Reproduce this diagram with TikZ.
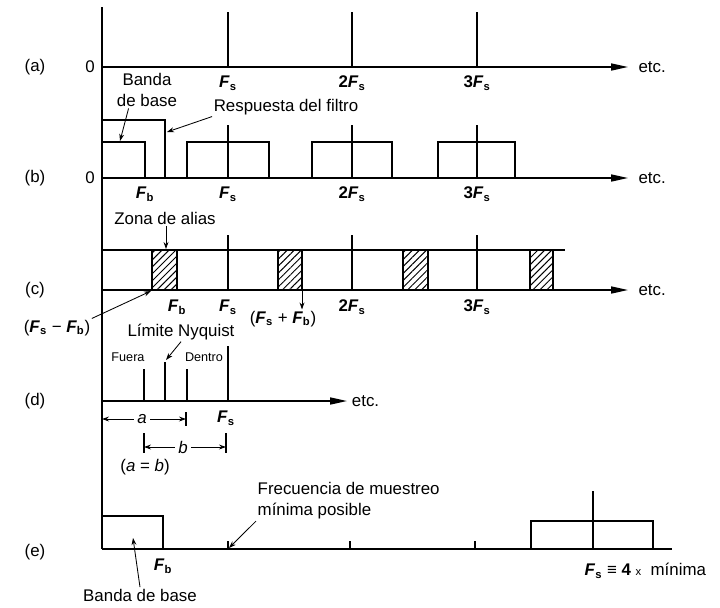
\documentclass[tikz,border=0pt]{standalone}
\usepackage{fontspec}
\setmainfont{Liberation Sans}
\usetikzlibrary{arrows.meta,patterns.meta}
\newcommand{\Fq}[1]{\textbf{\textit{F}}\textsubscript{\textbf{#1}}}
\tikzset{
  axisline/.style={line width=1pt},
  axisarrow/.style={line width=1pt, -{Stealth[length=12pt,width=5pt,inset=0pt]}},
  spec/.style={line width=1.8pt},
  aliasbox/.style={line width=1.3pt,
              pattern={Lines[angle=45,distance=3.5pt,line width=0.7pt]}},
  pointer/.style={line width=0.6pt, -{Stealth[length=5pt,width=3.5pt]}},
  dimline/.style={line width=0.6pt, {Stealth[length=5pt,width=3.5pt]}-{Stealth[length=5pt,width=3.5pt]}},
  lbl/.style={font=\fontsize{12}{15}\selectfont, inner sep=1pt},
  smalllbl/.style={font=\fontsize{9}{11}\selectfont, inner sep=1pt},
  freq/.style={font=\fontsize{12}{15}\selectfont, inner sep=1pt},
}
\begin{document}
\begin{tikzpicture}[x=0.025cm,y=-0.025cm]
\useasboundingbox (0,0) rectangle (720,607);
% common amplitude axis
\draw[axisline] (102,7) -- (102,549);

% (a) sampling pulses
\node[lbl] (pa) at (35,67) {(a)};
\node[lbl] (za) at (90,67) {0};
\foreach \x in {228,352,477} \draw[spec] (\x,12) -- (\x,67);
\draw[axisarrow] (102,67) -- (628,67) node[lbl,right=6pt] (etca) {etc.};
\node[freq] (fsa) at (228,83) {\Fq{s}};
\node[freq] (fsa2) at (352,83) {\textbf{2}\Fq{s}};
\node[freq] (fsa3) at (477,83) {\textbf{3}\Fq{s}};

% (b) baseband, filter and images
\node[lbl] (pb) at (35,178) {(b)};
\node[lbl] (zb) at (90,178) {0};
\draw[spec] (102,120) -| (165,178);
\draw[spec] (102,142) -| (145,178);
\foreach \l/\r/\x in {187/269/228, 312/392/352, 438/515/477} {
  \draw[spec] (\l,178) |- (\r,142) -- (\r,178);
  \draw[spec] (\x,125) -- (\x,178);
}
\draw[axisarrow] (102,178) -- (628,178) node[lbl,right=6pt] (etcb) {etc.};
\node[freq] (fbb) at (145,194) {\Fq{b}};
\node[freq] (fsb) at (228,194) {\Fq{s}};
\node[freq] (fsb2) at (352,194) {\textbf{2}\Fq{s}};
\node[freq] (fsb3) at (477,194) {\textbf{3}\Fq{s}};
\node[lbl, align=center] (banda) at (147,90) {Banda\\de base};
\coordinate (bandatip) at (120,141);
\draw[pointer] (banda.225) -- (bandatip);
\node[lbl] (resp) at (286,107) {Respuesta del filtro};
\coordinate (resptip) at (167,132);
\draw[pointer] (resp.south west) -- (resptip);

% (c) alias zones
\node[lbl] (pc) at (35,290) {(c)};
\draw[axisline] (102,250) -- (565,250);
\foreach \l/\r in {152/177, 278/302, 403/428, 530/553}
  \draw[aliasbox] (\l,250) rectangle (\r,290);
\foreach \x in {228,352,477} \draw[spec] (\x,235) -- (\x,290);
\draw[axisarrow] (102,290) -- (628,290) node[lbl,right=6pt] (etcc) {etc.};
\node[freq] (fbc) at (177,307) {\Fq{b}};
\node[freq] (fsc) at (228,307) {\Fq{s}};
\node[freq] (fsc2) at (352,307) {\textbf{2}\Fq{s}};
\node[freq] (fsc3) at (477,307) {\textbf{3}\Fq{s}};
\node[lbl] (zona) at (165,218) {Zona de alias};
\coordinate (zonatip) at (166,249);
\draw[pointer] (zona.south -| zonatip) -- (zonatip);
\node[freq] (diff) at (57,328) {(\Fq{s} − \Fq{b})};
\coordinate (difftip) at (151,291);
\draw[pointer] (diff.north east) -- (difftip);
\node[freq] (sum) at (283,319) {(\Fq{s} + \Fq{b})};
\coordinate (sumfoot) at (302,291);
\draw[pointer] (sumfoot) -- (sum.north -| sumfoot);

% (d) Nyquist limit
\node[lbl] (pd) at (35,401) {(d)};
\foreach \x/\t in {144/369, 165/362, 187/369, 228/346} \draw[spec] (\x,\t) -- (\x,401);
\draw[axisarrow] (102,401) -- (347,401) node[lbl,right=2pt] (etcd) {etc.};
\node[freq] (fsd) at (226,418) {\Fq{s}};
\node[smalllbl] (fuera) at (128,357) {Fuera};
\node[smalllbl] (dentro) at (204,357) {Dentro};
\node[lbl] (nyq) at (181,332) {Límite Nyquist};
\coordinate (nyqtip) at (166,360);
\draw[pointer] (nyq.south) -- (nyqtip);
\draw[dimline] (102,419) -- (186,419);
\draw[axisline] (186,412) -- (186,426);
\node[lbl, fill=white, inner sep=2pt] (da) at (142,419) {\textit{a}};
\draw[dimline] (144,447) -- (226,447);
\draw[axisline] (144,433) -- (144,453) (226,433) -- (226,453);
\node[lbl, fill=white, inner sep=2pt] (db) at (183,447) {\textit{b}};
\node[lbl] (aeqb) at (145,467) {(\textit{a} = \textit{b})};

% (e) minimum sampling frequency
\node[lbl] (pe) at (35,552) {(e)};
\draw[spec] (102,516) -| (163,549);
\draw[axisline] (102,549) -- (672,549);
\foreach \x in {228,350,475} \draw[axisline] (\x,549) -- (\x,541);
\draw[spec] (531,549) |- (653,521) -- (653,549);
\draw[spec] (593,491) -- (593,549);
\node[freq] (fbe) at (163,566) {\Fq{b}};
\node[freq, anchor=west] (fse) at (583,571)
  {\Fq{s} \textbf{≡ 4} {\footnotesize x}\ \ mínima};
\node[lbl, align=left, anchor=west] (frec) at (256,501)
  {Frecuencia de muestreo\\mínima posible};
\coordinate (frectip) at (229,548);
\draw[pointer] (frec.south west) -- (frectip);
\node[lbl] (bandae) at (140,595) {Banda de base};
\coordinate (bandaetip) at (133,538);
\draw[pointer] (bandae.north) -- (bandaetip);
\end{tikzpicture}
\end{document}
